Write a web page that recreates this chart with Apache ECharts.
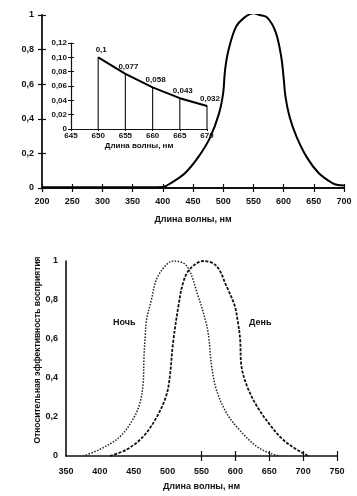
<!DOCTYPE html>
<html><head><meta charset="utf-8">
<script src="https://cdn.jsdelivr.net/npm/echarts@6/dist/echarts.min.js"></script>
<style>html,body{margin:0;padding:0;background:#fff}#c{width:357px;height:496px}</style>
</head><body><div id="c"></div>
<script>
// Top chart: relative spectral sensitivity (photopic)
const mainWl  = [200, 250, 300, 350, 400, 414, 437, 459, 478, 493, 500, 503, 509, 521, 535, 550, 560, 573, 587, 596, 600, 603, 610, 621, 638, 658, 680, 690, 700];
const mainVal = [0.004,0.004,0.004,0.004,0.006,0.03,0.087,0.18,0.29,0.43,0.55,0.68,0.80,0.93,0.985,1.01,1.0,0.985,0.90,0.76,0.64,0.53,0.41,0.30,0.18,0.087,0.03,0.017,0.015];
// Inset
const insetWl  = [650, 655, 660, 665, 670];
const insetVal = [0.1, 0.077, 0.058, 0.043, 0.032];
const insetLabels = ['0,1', '0,077', '0,058', '0,043', '0,032'];
// Bottom chart: night (scotopic) and day (photopic)
const nightWl  = [375, 400, 430, 449, 459, 464, 465, 467, 469, 476, 484, 498, 508, 528, 545, 557, 561, 565, 572, 587, 607, 631, 651, 666];
const nightVal = [0, 0.034, 0.10, 0.19, 0.27, 0.38, 0.50, 0.62, 0.70, 0.80, 0.91, 0.98, 1.0, 0.975, 0.82, 0.68, 0.60, 0.46, 0.34, 0.22, 0.13, 0.05, 0.014, 0];
const dayWl  = [415, 440, 464, 484, 498, 503, 508, 516, 523, 533, 553, 572, 587, 599, 604, 607, 609, 617, 631, 651, 670, 690, 705, 707];
const dayVal = [0, 0.034, 0.10, 0.20, 0.31, 0.40, 0.58, 0.77, 0.89, 0.96, 1.0, 0.975, 0.87, 0.77, 0.68, 0.60, 0.46, 0.36, 0.26, 0.16, 0.085, 0.034, 0.005, 0];
const bottomTicks = [550, 600, 650, 700, 750];

const F = '"Liberation Sans", Arial, sans-serif';
const C = '#111';
const comma = v => String(v).replace('.', ',');
const zip = (a, b) => a.map((x, i) => [x, b[i]]);

const chart = echarts.init(document.getElementById('c'), null, {renderer: 'canvas'});
const lbl = (size, margin, fmt) => ({fontFamily: F, fontSize: size, color: C, fontWeight: 'bold', margin: margin, formatter: fmt});
const line = w => ({show: true, lineStyle: {color: C, width: w}});

chart.setOption({
  animation: false,
  grid: [
    {left: 42, right: 13, top: 15, height: 173},
    {left: 71, top: 43, width: 136, height: 86},
    {left: 66, right: 20, top: 261, height: 195}
  ],
  xAxis: [
    {gridIndex: 0, type: 'value', position: 'bottom', min: 200, max: 700, interval: 50, axisLine: line(1.8),
     axisTick: {show: true, length: 4, lineStyle: {color: C, width: 1.2}}, splitLine: {show: false},
     axisLabel: lbl(9, 9),
     name: 'Длина волны, нм', nameLocation: 'middle', nameGap: 27,
     nameTextStyle: {fontFamily: F, fontSize: 9, color: C, fontWeight: 'bold'}},
    {gridIndex: 0, type: 'value', position: 'bottom', min: 200, max: 700, interval: 50, axisLine: {show: false},
     axisTick: {show: true, inside: true, length: 4, lineStyle: {color: C, width: 1.2}}, axisLabel: {show: false}, splitLine: {show: false}},
    {gridIndex: 1, type: 'value', position: 'bottom', min: 645, max: 670, interval: 5, axisLine: line(1.2),
     axisTick: {show: true, length: 2, lineStyle: {color: C}}, splitLine: {show: false},
     axisLabel: lbl(8, 3),
     name: 'Длина волны, нм', nameLocation: 'middle', nameGap: 13,
     nameTextStyle: {fontFamily: F, fontSize: 8, color: C, fontWeight: 'bold'}},
    {gridIndex: 2, type: 'value', position: 'bottom', min: 350, max: 750, interval: 50, axisLine: line(1.6),
     axisTick: {show: true, length: 5, customValues: bottomTicks, lineStyle: {color: C, width: 1.2}}, splitLine: {show: false},
     axisLabel: lbl(9, 11),
     name: 'Длина волны, нм', nameLocation: 'middle', nameGap: 26,
     nameTextStyle: {fontFamily: F, fontSize: 9, color: C, fontWeight: 'bold'}},
    {gridIndex: 2, type: 'value', position: 'bottom', min: 350, max: 750, interval: 50, axisLine: {show: false},
     axisTick: {show: true, inside: true, length: 5, customValues: bottomTicks, lineStyle: {color: C, width: 1.2}}, axisLabel: {show: false}, splitLine: {show: false}}
  ],
  yAxis: [
    {gridIndex: 0, type: 'value', position: 'left', min: 0, max: 1, interval: 0.2, axisLine: line(1.8),
     axisTick: {show: true, length: 4, lineStyle: {color: C, width: 1.2}}, splitLine: {show: false},
     axisLabel: lbl(9, 8, v => comma(+v.toFixed(1)))},
    {gridIndex: 0, type: 'value', position: 'left', min: 0, max: 1, interval: 0.2, axisLine: {show: false},
     axisTick: {show: true, inside: true, length: 4, lineStyle: {color: C, width: 1.2}}, axisLabel: {show: false}, splitLine: {show: false}},
    {gridIndex: 1, type: 'value', position: 'left', min: 0, max: 0.12, interval: 0.02, axisLine: line(1.2),
     axisTick: {show: true, length: 3, lineStyle: {color: C}}, splitLine: {show: false},
     axisLabel: lbl(8, 4, v => v === 0 ? '0' : v.toFixed(2).replace('.', ','))},
    {gridIndex: 1, type: 'value', position: 'left', min: 0, max: 0.12, interval: 0.02, axisLine: {show: false},
     axisTick: {show: true, inside: true, length: 3, lineStyle: {color: C}}, axisLabel: {show: false}, splitLine: {show: false}},
    {gridIndex: 2, type: 'value', position: 'left', min: 0, max: 1, interval: 0.2, axisLine: line(1.6),
     axisTick: {show: false}, splitLine: {show: false},
     axisLabel: lbl(9, 8, v => comma(+v.toFixed(1)))}
  ],
  series: [
    {type: 'line', xAxisIndex: 0, yAxisIndex: 0, data: zip(mainWl, mainVal), smooth: 0.35, showSymbol: false,
     lineStyle: {color: '#000', width: 2}, z: 3},
    {type: 'bar', xAxisIndex: 2, yAxisIndex: 2, data: zip(insetWl, insetVal), barWidth: 1.2,
     itemStyle: {color: '#222'}, z: 2},
    {type: 'line', xAxisIndex: 2, yAxisIndex: 2, data: zip(insetWl, insetVal), showSymbol: true, symbol: 'circle', symbolSize: 1,
     itemStyle: {color: '#000'}, lineStyle: {color: '#000', width: 2}, z: 4,
     label: {show: true, position: 'top', distance: 3, offset: [3, 0], fontFamily: F, fontSize: 8, color: C, fontWeight: 'bold',
             formatter: p => insetLabels[p.dataIndex]}},
    {type: 'line', xAxisIndex: 3, yAxisIndex: 4, data: zip(nightWl, nightVal), smooth: 0.35, showSymbol: false,
     lineStyle: {color: '#222', width: 1.5, type: [1.5, 1.5]}},
    {type: 'line', xAxisIndex: 3, yAxisIndex: 4, data: zip(dayWl, dayVal), smooth: 0.35, showSymbol: false,
     lineStyle: {color: '#111', width: 1.8, type: [3, 1.5]}}
  ],
  graphic: [
    {type: 'text', x: 38, y: 350, rotation: Math.PI / 2,
     style: {text: 'Относительная эффективность восприятия', font: 'bold 8.5px ' + F, fill: C, align: 'center', verticalAlign: 'middle'}},
    {type: 'text', left: 113, top: 318, style: {text: 'Ночь', font: 'bold 9px ' + F, fill: C}},
    {type: 'text', left: 249, top: 318, style: {text: 'День', font: 'bold 9px ' + F, fill: C}}
  ]
});
</script></body></html>
